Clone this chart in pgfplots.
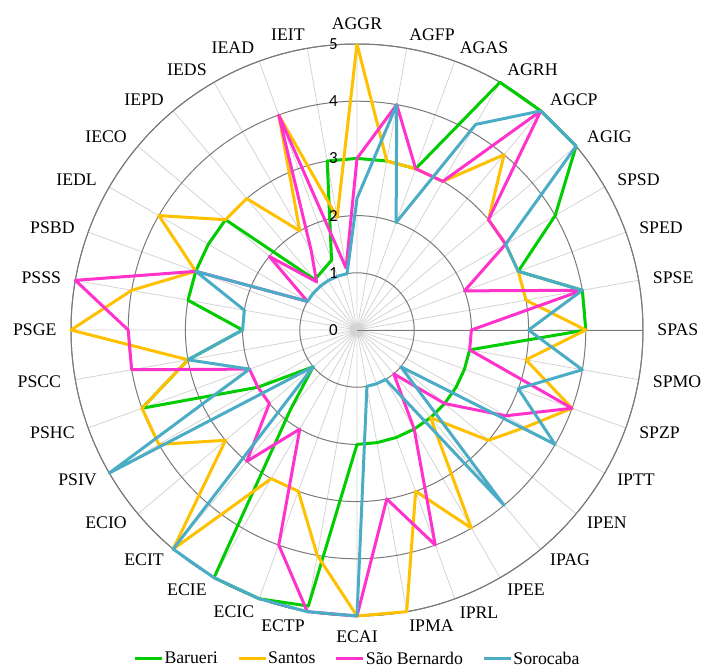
\documentclass[border=0pt]{standalone}
\usepackage{fontspec}
\setmainfont{Liberation Serif}
\newfontfamily\radfont{Carlito}
\usepackage{pgfplots}
\pgfplotsset{compat=1.18}
\usepgfplotslibrary{polar}
\definecolor{cBar}{HTML}{00CC00}
\definecolor{cSan}{HTML}{FFC000}
\definecolor{cSao}{HTML}{FF33CC}
\definecolor{cSor}{HTML}{4BACC6}
\definecolor{ring}{HTML}{7A7A7A}
\definecolor{spoke}{HTML}{D4D4D4}
\begin{document}
\begin{tikzpicture}
\path[use as bounding box] (-357bp,-339bp) rectangle (345bp,330bp);
\begin{polaraxis}[
  at={(0,0)}, anchor=center,
  width=572bp, height=572bp, scale only axis,
  xmin=0, xmax=360, ymin=0, ymax=5,
  xtick={0,10,...,350}, xticklabels={},
  ytick={1,2,3,4,5}, yticklabels={},
  xmajorgrids, ymajorgrids,
  x grid style={spoke, line width=0.8bp},
  y grid style={ring, line width=1bp},
  axis line style={ring, line width=1bp},
  major tick length=0pt,
  clip=false,
  every axis plot/.append style={line width=3bp, no marks, line join=round},
  legend columns=4,
  legend image code/.code={\draw[#1, line width=3bp] (0bp,0bp) -- (27bp,0bp);},
  legend style={at={(0.5,-0.0745)}, anchor=center, draw=none, fill=none,
    font=\fontsize{17.8}{20}\selectfont,
    nodes={inner sep=1bp},
    /tikz/every even column/.append style={column sep=18.5bp}},
]
\addplot[cBar] coordinates {(90,3) (80,3) (70,3) (60,5) (50,5) (40,5) (30,4) (20,3) (10,4) (0,4) (350,2) (340,2) (330,2) (320,2) (310,2) (300,2) (290,2) (280,2) (270,2) (260,4.9) (250,5) (240,5) (230,1.8) (220,1) (210,2) (200,4) (190,3) (180,2) (170,3) (160,3) (150,3) (140,3) (130,1.15) (120,1.2) (110,1.3) (100,3) (90,3)};
\addlegendentry{Barueri}
\addplot[cSan] coordinates {(90,5) (80,3) (70,3) (60,3) (50,4) (40,3) (30,3) (20,3) (10,3) (0,4) (350,3) (340,4) (330,3.4) (320,3) (310,2) (300,4) (290,3) (280,5) (270,5) (260,4) (250,3) (240,3) (230,5) (220,3) (210,4) (200,4) (190,3) (180,5) (170,4) (160,3) (150,4) (140,3) (130,3) (120,2) (110,4) (100,2) (90,5)};
\addlegendentry{Santos}
\addplot[cSao] coordinates {(90,3) (80,4) (70,3) (60,3) (50,5) (40,3) (30,3) (20,2) (10,4) (0,2) (350,2) (340,4) (330,3) (320,2) (310,1) (300,2) (290,4) (280,3) (270,5) (260,5) (250,4) (240,2) (230,3) (220,2) (210,2) (200,2) (190,4) (180,4) (170,5) (160,3) (150,1) (140,2) (130,1.1) (120,1.6) (110,4) (100,1.1) (90,3)};
\addlegendentry{São Bernardo}
\addplot[cSor] coordinates {(90,2.3) (80,4) (70,2) (60,4.15) (50,5) (40,5) (30,3) (20,3) (10,4) (0,3) (350,4) (340,3) (330,4) (320,1) (310,4) (300,1) (290,1) (280,1) (270,5) (260,5) (250,5) (240,5) (230,5) (220,1) (210,5) (200,2) (190,3) (180,2) (170,2) (160,3) (150,1) (140,1) (130,1) (120,1) (110,1) (100,1) (90,2.3)};
\addlegendentry{Sorocaba}
\pgfplotsinvokeforeach{0,1,2,3,4,5}{
  \node[anchor=east, inner sep=0pt, xshift=-19bp, font=\radfont\fontsize{17}{18}\selectfont] at (axis cs:90,#1) {#1};
}
\begin{scope}[every node/.style={inner sep=0pt, font=\fontsize{17.8}{20}\selectfont}]
\node[anchor=west]  at (axis cs:0,5.25)   {SPAS};
\node[anchor=west]  at (axis cs:10,5.25)  {SPSE};
\node[anchor=west]  at (axis cs:20,5.25)  {SPED};
\node[anchor=west]  at (axis cs:30,5.25)  {SPSD};
\node[anchor=west]  at (axis cs:40,5.25)  {AGIG};
\node[anchor=west]  at (axis cs:50,5.25)  {AGCP};
\node[anchor=west]  at (axis cs:60,5.25)  {AGRH};
\node[anchor=west]  at (axis cs:70,5.25)  {AGAS};
\node[anchor=west]  at (axis cs:80,5.25)  {AGFP};
\node[anchor=south] at (axis cs:90,5.25)  {AGGR};
\node[anchor=east]  at (axis cs:100,5.25) {IEIT};
\node[anchor=east]  at (axis cs:110,5.25) {IEAD};
\node[anchor=east]  at (axis cs:120,5.25) {IEDS};
\node[anchor=east]  at (axis cs:130,5.25) {IEPD};
\node[anchor=east]  at (axis cs:140,5.25) {IECO};
\node[anchor=east]  at (axis cs:150,5.25) {IEDL};
\node[anchor=east]  at (axis cs:160,5.25) {PSBD};
\node[anchor=east]  at (axis cs:170,5.25) {PSSS};
\node[anchor=east]  at (axis cs:180,5.25) {PSGE};
\node[anchor=east]  at (axis cs:190,5.25) {PSCC};
\node[anchor=east]  at (axis cs:200,5.25) {PSHC};
\node[anchor=east]  at (axis cs:210,5.25) {PSIV};
\node[anchor=east]  at (axis cs:220,5.25) {ECIO};
\node[anchor=east]  at (axis cs:230,5.25) {ECIT};
\node[anchor=east]  at (axis cs:240,5.25) {ECIE};
\node[anchor=east]  at (axis cs:250,5.25) {ECIC};
\node[anchor=east]  at (axis cs:260,5.25) {ECTP};
\node[anchor=north] at (axis cs:270,5.25) {ECAI};
\node[anchor=west]  at (axis cs:280,5.25) {IPMA};
\node[anchor=west]  at (axis cs:290,5.25) {IPRL};
\node[anchor=west]  at (axis cs:300,5.25) {IPEE};
\node[anchor=west]  at (axis cs:310,5.25) {IPAG};
\node[anchor=west]  at (axis cs:320,5.25) {IPEN};
\node[anchor=west]  at (axis cs:330,5.25) {IPTT};
\node[anchor=west]  at (axis cs:340,5.25) {SPZP};
\node[anchor=west]  at (axis cs:350,5.25) {SPMO};
\end{scope}
\end{polaraxis}
\end{tikzpicture}
\end{document}
